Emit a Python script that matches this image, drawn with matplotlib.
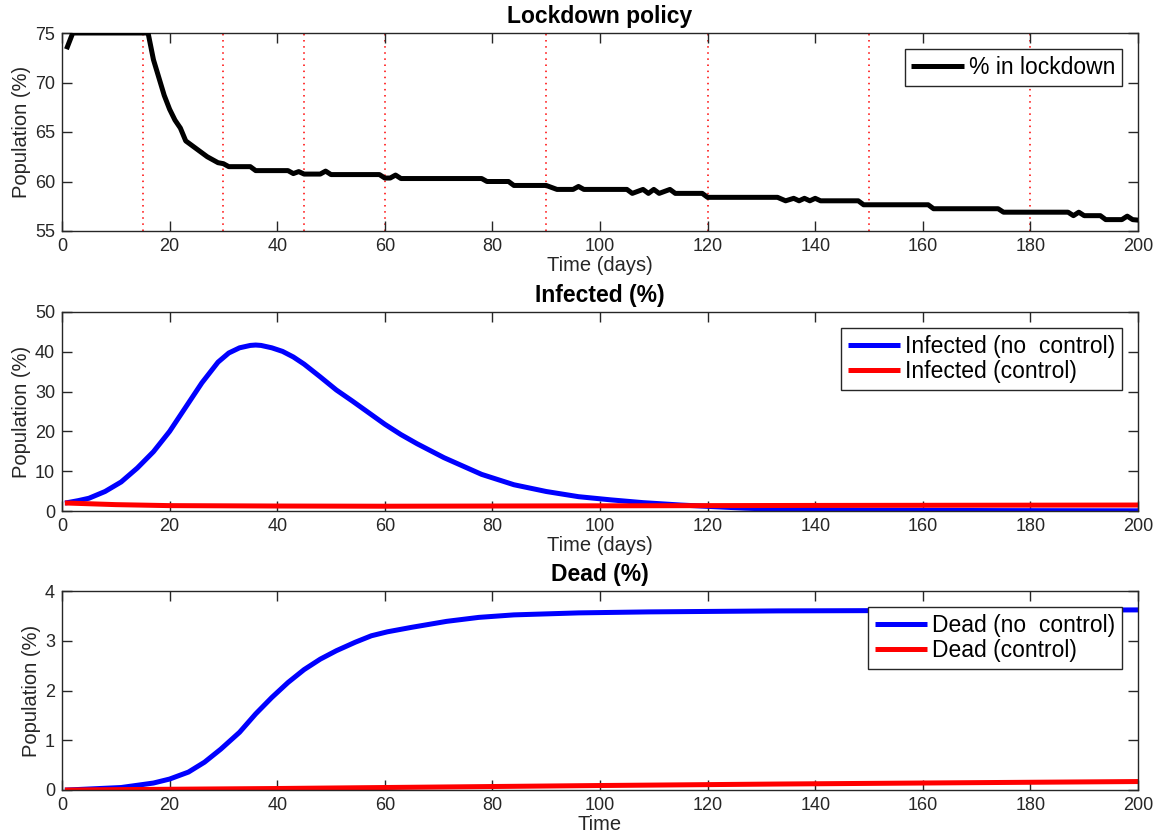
import matplotlib
matplotlib.use("Agg")
import matplotlib.pyplot as plt
import numpy as np

plt.rcParams['font.family'] = ['Liberation Sans', 'DejaVu Sans']

# ---------------- data ----------------
lockdown_days = [1, 2, 16, 17, 18, 19, 20, 21, 22, 23,
                 25, 27, 29, 30, 31, 35, 36, 42, 43, 44,
                 45, 48, 49, 50, 59, 60, 61, 62, 63, 78,
                 79, 83, 84, 90, 92, 95, 96, 97, 105, 106,
                 108, 109, 110, 111, 113, 114, 119, 120, 133, 134.5,
                 136, 137, 138, 139, 140, 141, 148, 149, 161, 162,
                 174, 175, 187, 188, 189, 190, 193, 194, 197, 198,
                 199, 200]
lockdown_pct = [73.6, 75, 75, 72.3, 70.5, 68.7, 67.3, 66.2, 65.4, 64.1,
                63.3, 62.5, 61.9, 61.8, 61.5, 61.5, 61.1, 61.1, 60.8, 61.0,
                60.75, 60.75, 61.05, 60.7, 60.7, 60.35, 60.35, 60.65, 60.3, 60.3,
                60.0, 60.0, 59.6, 59.6, 59.2, 59.2, 59.5, 59.2, 59.2, 58.8,
                59.2, 58.8, 59.2, 58.8, 59.2, 58.8, 58.8, 58.4, 58.4, 58.05,
                58.3, 58.05, 58.3, 58.05, 58.3, 58.05, 58.05, 57.65, 57.65, 57.25,
                57.25, 56.9, 56.9, 56.55, 56.9, 56.55, 56.55, 56.15, 56.15, 56.5,
                56.15, 56.1]
policy_days = [15, 30, 45, 60, 90, 120, 150, 180]

inf_nc_days = [1, 3, 5, 8, 11, 14, 17, 20, 23, 26, 29, 31, 33, 35, 36, 37, 39, 41,
               43, 45, 48, 51, 54, 57, 60, 63, 66, 71, 75, 78, 84, 90, 96, 102, 108,
               115, 121, 127, 133, 150, 175, 200]
inf_nc = [2.1, 2.6, 3.2, 4.9, 7.3, 10.8, 14.9, 20.0, 26.1, 32.2, 37.4, 39.7, 41.0,
          41.6, 41.7, 41.6, 41.0, 40.1, 38.7, 36.9, 33.7, 30.4, 27.6, 24.7, 21.8,
          19.2, 16.9, 13.4, 11.0, 9.2, 6.6, 4.9, 3.6, 2.8, 2.1, 1.5, 1.1, 0.7,
          0.45, 0.2, 0.1, 0.05]
inf_c_days = [1, 10, 20, 40, 60, 100, 140, 200]
inf_c = [2.0, 1.6, 1.35, 1.25, 1.2, 1.3, 1.4, 1.5]

dead_nc_days = [1, 11, 17, 20, 23.5, 26.5, 29.5, 33, 36, 39, 42, 45, 48, 51,
                54.5, 57.5, 60.5, 65, 71.5, 77.5, 84, 96, 109, 133, 165, 200]
dead_nc = [0.0, 0.05, 0.14, 0.22, 0.36, 0.56, 0.82, 1.16, 1.53, 1.86, 2.16, 2.42,
           2.63, 2.8, 2.97, 3.1, 3.18, 3.27, 3.39, 3.47, 3.52, 3.56, 3.58, 3.6,
           3.61, 3.62]
dead_c_days = [1, 20, 40, 60, 80, 100, 133, 166, 200]
dead_c = [0.0, 0.015, 0.03, 0.05, 0.07, 0.09, 0.12, 0.145, 0.17]

x_ticks = list(range(0, 201, 20))

# ---------------- figure ----------------
W, H = 1161, 840
fig = plt.figure(figsize=(W / 100, H / 100), dpi=100)

def rect(top, bottom, left=62, right=1138):
    return [left / W, 1 - bottom / H, (right - left) / W, (bottom - top) / H]

ax1 = fig.add_axes(rect(33, 231))
ax2 = fig.add_axes(rect(312, 511))
ax3 = fig.add_axes(rect(591, 790))

axc = '#262626'
for ax in (ax1, ax2, ax3):
    ax.set_xlim(0, 200)
    ax.set_xticks(x_ticks)
    ax.tick_params(direction='in', length=7, width=1, top=True, right=True,
                   colors=axc, labelsize=13, labelcolor=axc, pad=5)
    for s in ax.spines.values():
        s.set_color(axc)
        s.set_linewidth(1)
    ax.set_ylabel('Population (%)', fontsize=14.5, color=axc, labelpad=3)

lw = 3.6

# top
for d in policy_days:
    ax1.axvline(d, color='red', linestyle=(0, (1, 3)), linewidth=1.1, zorder=1)
ax1.plot(lockdown_days, lockdown_pct, color='black', linewidth=lw,
         label='% in lockdown', zorder=3, solid_joinstyle='round')
ax1.set_ylim(55, 75)
ax1.set_yticks([55, 60, 65, 70, 75])
ax1.set_title('Lockdown policy', fontsize=16.5, fontweight='bold', pad=7)
ax1.set_xlabel('Time (days)', fontsize=14.5, color=axc, labelpad=1)

# middle
ax2.plot(inf_nc_days, inf_nc, color='blue', linewidth=lw, label='Infected (no  control)')
ax2.plot(inf_c_days, inf_c, color='red', linewidth=lw, label='Infected (control)')
ax2.set_ylim(0, 50)
ax2.set_yticks([0, 10, 20, 30, 40, 50])
ax2.set_title('Infected (%)', fontsize=16.5, fontweight='bold', pad=7)
ax2.set_xlabel('Time (days)', fontsize=14.5, color=axc, labelpad=1)

# bottom
ax3.plot(dead_nc_days, dead_nc, color='blue', linewidth=lw, label='Dead (no  control)')
ax3.plot(dead_c_days, dead_c, color='red', linewidth=lw, label='Dead (control)')
ax3.set_ylim(0, 4)
ax3.set_yticks([0, 1, 2, 3, 4])
ax3.set_title('Dead (%)', fontsize=16.5, fontweight='bold', pad=7)
ax3.set_xlabel('Time', fontsize=14.5, color=axc, labelpad=1)

for ax in (ax1, ax2, ax3):
    leg = ax.legend(loc='upper right', fontsize=16.5, frameon=True, fancybox=False,
                    framealpha=1, edgecolor=axc, handlelength=2.3, handletextpad=0.2,
                    borderpad=0.3, labelspacing=0.08, borderaxespad=0.7)
    leg.get_frame().set_linewidth(1)
    for h in leg.get_lines():
        h.set_solid_capstyle('butt')

fig.savefig('out.png', dpi=100)
